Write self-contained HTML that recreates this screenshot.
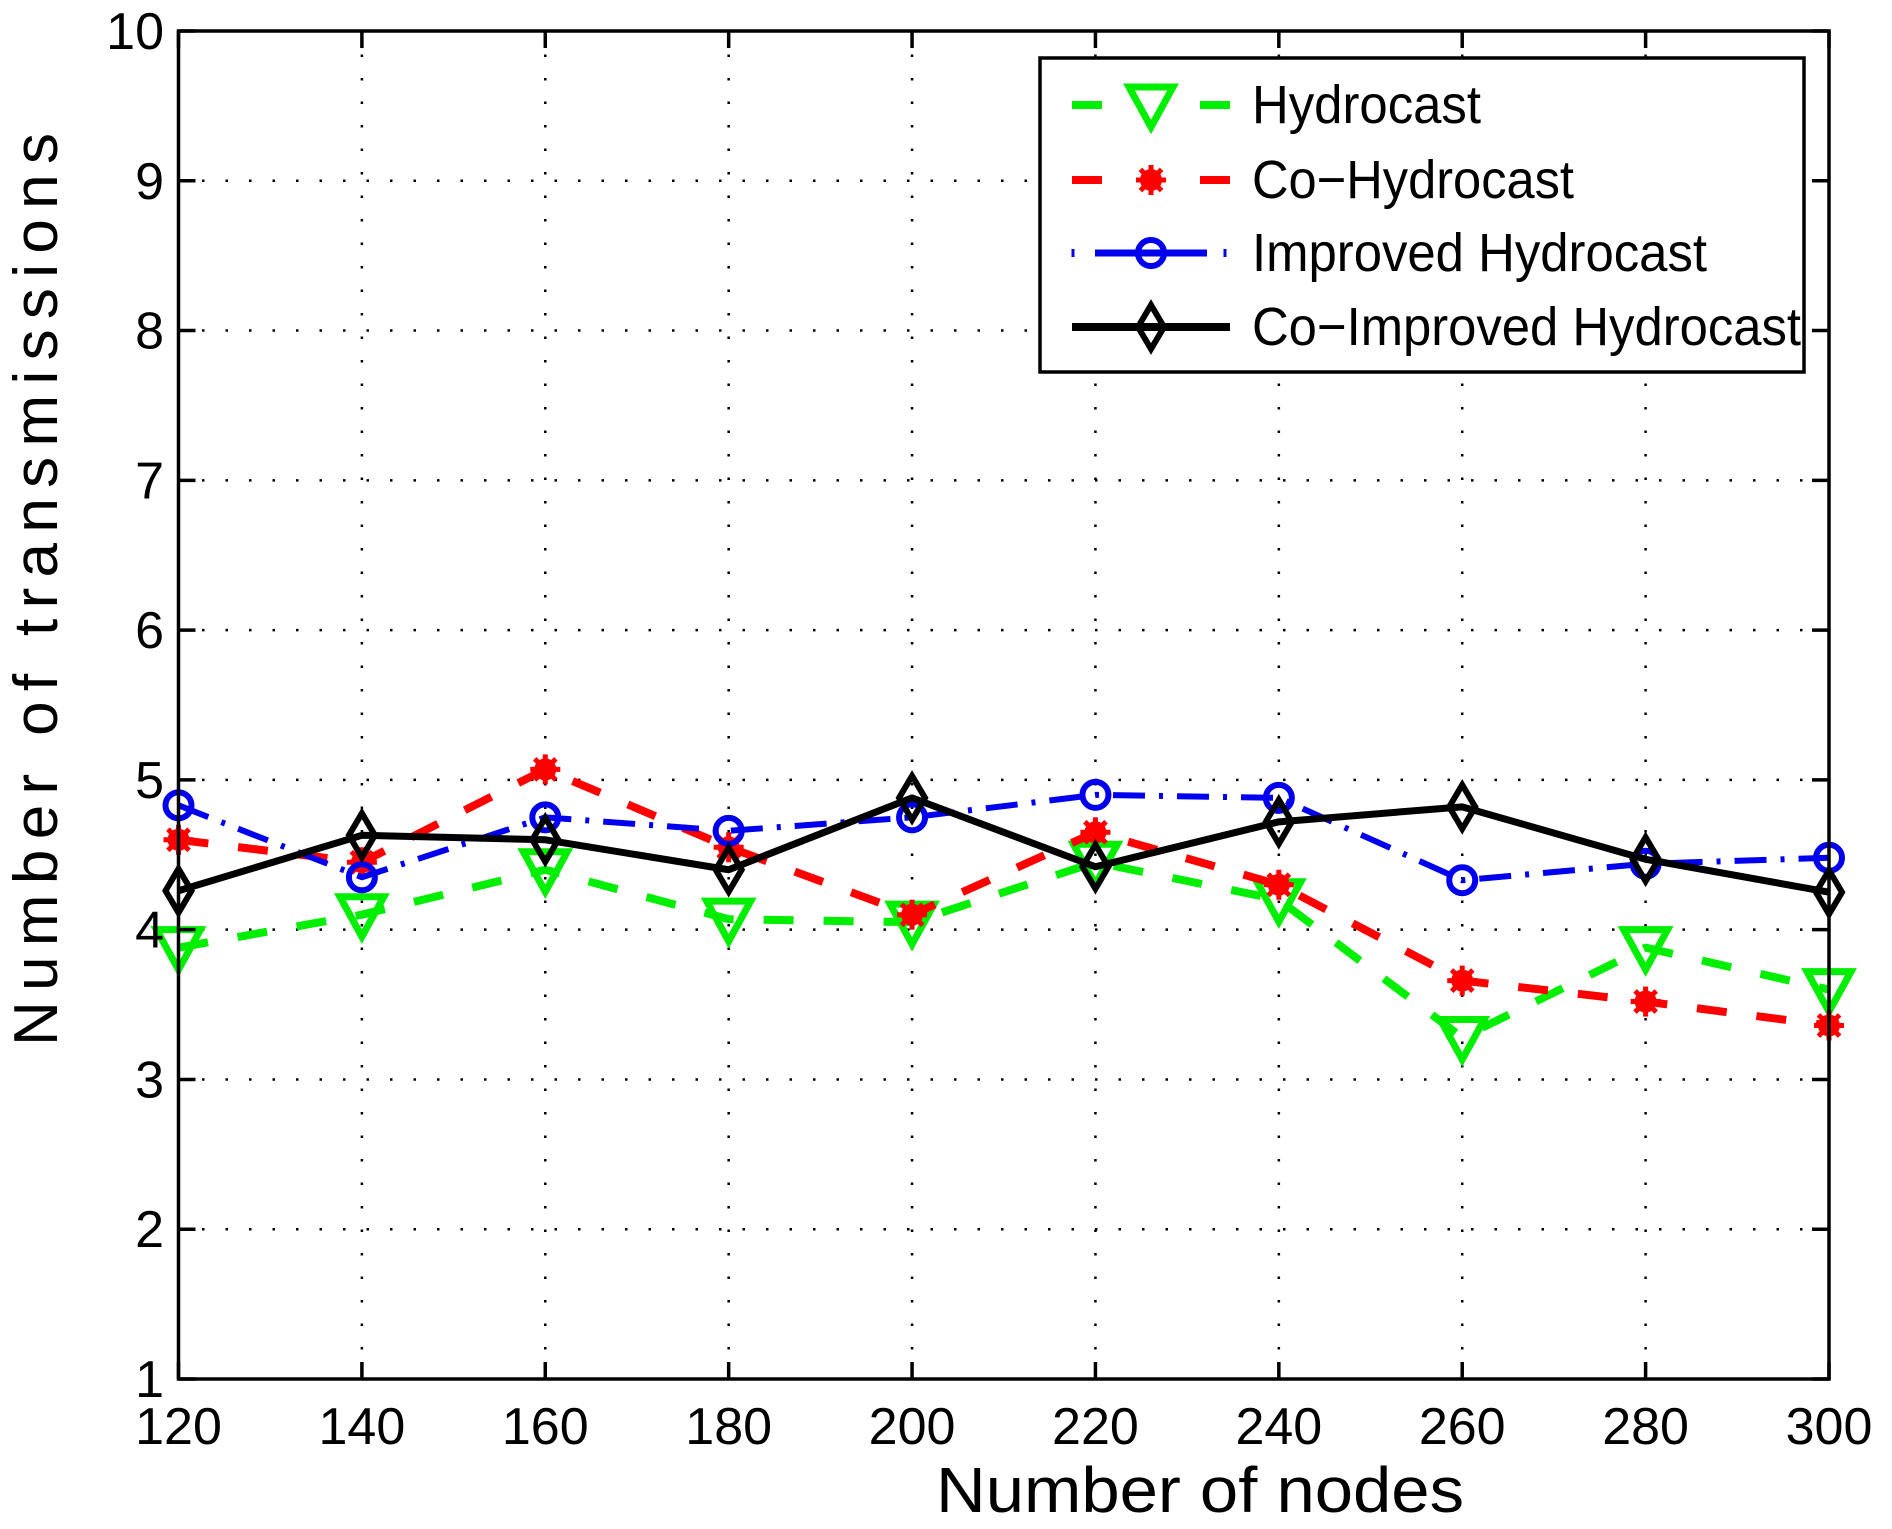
<!DOCTYPE html>
<html><head><meta charset="utf-8"><style>html,body{margin:0;padding:0;background:#fff}svg{display:block}</style></head>
<body>
<svg id="chart" xmlns="http://www.w3.org/2000/svg" width="1892" height="1529" viewBox="0 0 1892 1529" font-family="'Liberation Sans', sans-serif">
<g id="grid"></g>
<g id="series"></g>
<rect x="178.5" y="31" width="1650.5" height="1348" fill="none" stroke="#000" stroke-width="3.5"/>
<g id="ticks"></g>
<text x="936" y="1512" font-size="64" textLength="528" lengthAdjust="spacingAndGlyphs">Number of nodes</text>
<text transform="translate(57,1046) rotate(-90)" font-size="62" textLength="913" lengthAdjust="spacing">Number of transmissions</text>
<g id="legend">
<rect x="1040" y="58" width="764" height="314" fill="#fff" stroke="#000" stroke-width="3.5"/>
</g>
</svg>
<script>
const categories = [120,140,160,180,200,220,240,260,280,300];
const yTicks = [1,2,3,4,5,6,7,8,9,10];
const seriesNames = ["Hydrocast","Co\u2212Hydrocast","Improved Hydrocast","Co\u2212Improved Hydrocast"];
const hydrocast = [3.88,4.1,4.4,4.07,4.05,4.45,4.2,3.28,3.88,3.6];
const coHydrocast = [4.6,4.45,5.07,4.55,4.1,4.65,4.3,3.66,3.52,3.36];
const improvedHydrocast = [4.83,4.35,4.75,4.66,4.75,4.9,4.88,4.33,4.44,4.48];
const coImprovedHydrocast = [4.26,4.63,4.6,4.4,4.88,4.42,4.72,4.82,4.47,4.25];

const NS="http://www.w3.org/2000/svg";
const X0=178.5,X1=1829,Y0=1379,Y1=31;
function xs(v){return X0+(v-120)/(300-120)*(X1-X0);}
function ys(v){return Y0-(v-1)/(10-1)*(Y0-Y1);}
function mk(tag,attrs,parent){const e=document.createElementNS(NS,tag);for(const k in attrs)e.setAttribute(k,attrs[k]);parent.appendChild(e);return e;}
const grid=document.getElementById('grid'),ticks=document.getElementById('ticks'),ser=document.getElementById('series'),leg=document.getElementById('legend');

categories.forEach(c=>{
  const x=xs(c);
  if(c!==120&&c!==300){const g=mk('line',{x1:x,y1:Y1,x2:x,y2:Y0,stroke:'#000','stroke-width':2.5,'stroke-dasharray':'2.5,21'},grid);
  
  }
  const t1=mk('line',{x1:x,y1:Y0,x2:x,y2:Y0-17,stroke:'#000','stroke-width':3.5},ticks);
  
  
  const t2=mk('line',{x1:x,y1:Y1,x2:x,y2:Y1+17,stroke:'#000','stroke-width':3.5},ticks);
  
  
  const lb=mk('text',{x:x,y:1444,'font-size':52,'text-anchor':'middle'},ticks);
  lb.textContent=c;
  
  
});
yTicks.forEach(v=>{
  const y=ys(v);
  if(v!==1&&v!==10){const g=mk('line',{x1:X0,y1:y,x2:X1,y2:y,stroke:'#000','stroke-width':2.5,'stroke-dasharray':'2.5,21'},grid);
  
  }
  const t1=mk('line',{x1:X0,y1:y,x2:X0+17,y2:y,stroke:'#000','stroke-width':3.5},ticks);
  
  
  const t2=mk('line',{x1:X1,y1:y,x2:X1-17,y2:y,stroke:'#000','stroke-width':3.5},ticks);
  
  
  const lb=mk('text',{x:164,y:y+18,'font-size':52,'text-anchor':'end'},ticks);
  lb.textContent=v;
  
  
});

function marker(type,x,y,color,parent){
  let e;
  if(type==='tri'){e=mk('path',{d:`M${x-22},${y-18} L${x+22},${y-18} L${x},${y+22} Z`,fill:'none',stroke:color,'stroke-width':7,'stroke-linejoin':'miter'},parent);}
  else if(type==='star'){e=mk('g',{},parent);
    mk('circle',{cx:x,cy:y,r:11,fill:color},e);
    [0,45,90,135].forEach(a=>{const r=a*Math.PI/180;mk('line',{x1:x-15*Math.cos(r),y1:y-15*Math.sin(r),x2:x+15*Math.cos(r),y2:y+15*Math.sin(r),stroke:color,'stroke-width':5},e);});}
  else if(type==='circle'){e=mk('circle',{cx:x,cy:y,r:13,fill:'none',stroke:color,'stroke-width':6},parent);}
  else {e=mk('path',{d:`M${x},${y-22} L${x+13},${y} L${x},${y+22} L${x-13},${y} Z`,fill:'none',stroke:color,'stroke-width':6},parent);}
  return e;
}
const defs=[
 {data:hydrocast,color:'#00ee00',dash:'30,30',m:'tri',w:8,name:'hydrocast'},
 {data:coHydrocast,color:'#ff0000',dash:'30,30',m:'star',w:8,name:'co-hydrocast'},
 {data:improvedHydrocast,color:'#0000ee',dash:'32,14,4,14',m:'circle',w:6,name:'improved-hydrocast'},
 {data:coImprovedHydrocast,color:'#000',dash:'none',m:'dia',w:7,name:'co-improved-hydrocast'}
];
defs.forEach((d,i)=>{
  const g=mk('g',{},ser);
  
  
  const pts=d.data.map((v,j)=>xs(categories[j])+','+ys(v)).join(' ');
  const pl=mk('polyline',{points:pts,fill:'none',stroke:d.color,'stroke-width':d.w,'stroke-dasharray':d.dash,'stroke-linejoin':'round'},g);
  
  
  d.data.forEach((v,j)=>{const m=marker(d.m,xs(categories[j]),ys(v),d.color,g);
    
    });
  const ly=[105,180,253,327][i];
  const le=mk('g',{},leg);
  
  
  if(d.dash==='none'){mk('line',{x1:1072,y1:ly,x2:1230,y2:ly,stroke:d.color,'stroke-width':8},le);}
  else if(d.m==='circle'){mk('line',{x1:1095,y1:ly,x2:1207,y2:ly,stroke:d.color,'stroke-width':7},le);
    mk('line',{x1:1073,y1:ly-4,x2:1073,y2:ly+4,stroke:d.color,'stroke-width':3},le);mk('line',{x1:1225,y1:ly-4,x2:1225,y2:ly+4,stroke:d.color,'stroke-width':3},le);}
  else {mk('line',{x1:1072,y1:ly,x2:1102,y2:ly,stroke:d.color,'stroke-width':8},le);mk('line',{x1:1200,y1:ly,x2:1230,y2:ly,stroke:d.color,'stroke-width':8},le);}
  marker(d.m,1151,ly,d.color,le);
  const tl=[229,322,455,549][i];
  const t=mk('text',{x:1252,y:ly+18,'font-size':54,textLength:tl,lengthAdjust:'spacingAndGlyphs'},le);
  t.textContent=seriesNames[i];
  
  
});
</script>
</body></html>
